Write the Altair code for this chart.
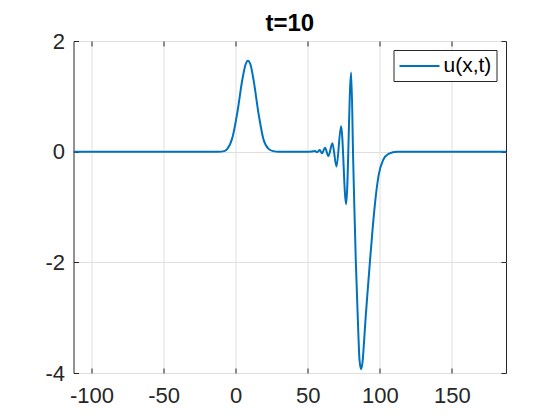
import altair as alt
import pandas as pd

# values
x_vals = [-112.5, -12, -8, -5.8, -2.3, 1.1, 4.6, 6.9, 8.5, 10.3, 12.5, 15.9, 19.3, 22.8, 26, 30,
          48, 53, 55, 56.5, 58.3, 59.8, 62.0, 64.3, 67.1, 69.9, 73.1, 76.6, 80.1, 81.5, 82.3,
          83.3, 84.9, 85.9, 87.0, 88.0, 89.0, 90.0, 91.4, 93.2, 95.1, 97.2, 99.2, 102.3, 106, 112, 187.5]
u_vals = [0, 0, 0.01, 0.05, 0.25, 0.70, 1.30, 1.58, 1.645, 1.57, 1.28, 0.68, 0.22, 0.05, 0.01, 0,
          0, 0.005, 0.01, -0.01, 0.03, -0.03, 0.07, -0.08, 0.15, -0.27, 0.46, -0.95, 1.43, -0.15, -1.0,
          -1.96, -3.16, -3.77, -3.93, -3.80, -3.45, -3.05, -2.56, -1.96, -1.36, -0.80, -0.42, -0.15, -0.04, 0, 0]
series = ["u(x,t)"] * len(x_vals)
x_ticks = [-100, -50, 0, 50, 100, 150]
y_ticks = [-4, -2, 0, 2]
x_domain = [-112.5, 187.5]
y_domain = [-4, 2]

df = pd.DataFrame({"x": x_vals, "u": u_vals, "s": series})

FONT = "Liberation Sans"
TXT = "#262626"

base = alt.Chart(df)

main = base.mark_line(color="#0072BD", strokeWidth=2, interpolate="monotone").encode(
    x=alt.X("x:Q", scale=alt.Scale(domain=x_domain, nice=False, zero=False),
            axis=alt.Axis(orient="bottom", values=x_ticks, grid=True, ticks=False, domain=False,
                          labelPadding=12, labelExpr="'' + datum.value", title=None,
                          labelFont=FONT, labelFontSize=22, labelColor=TXT)),
    y=alt.Y("u:Q", scale=alt.Scale(domain=y_domain, nice=False),
            axis=alt.Axis(orient="left", values=y_ticks, grid=True, ticks=False, domain=False,
                          labelPadding=9, labelExpr="'' + datum.value", title=None,
                          labelFont=FONT, labelFontSize=22, labelColor=TXT)),
    color=alt.Color("s:N", scale=alt.Scale(range=["#0072BD"]),
                    legend=alt.Legend(title=None, orient="none", legendX=320, legendY=9,
                                      strokeColor=TXT, fillColor="white", padding=5,
                                      symbolType="M-2,0H2", symbolSize=400, symbolStrokeWidth=2,
                                      symbolOffset=10, labelFontSize=21, labelFont=FONT,
                                      labelColor="black", labelOffset=13, cornerRadius=0)),
)


def tick_axis(orient):
    return alt.Axis(orient=orient, grid=False, ticks=True, tickSize=5, offset=-5,
                    labels=False, domain=False, title=None, minExtent=0, maxExtent=0,
                    values=x_ticks if orient in ("top", "bottom") else y_ticks)


ticks_tr = base.mark_line(strokeOpacity=0).encode(
    x=alt.X("x:Q", scale=alt.Scale(domain=x_domain, nice=False, zero=False), axis=tick_axis("top")),
    y=alt.Y("u:Q", scale=alt.Scale(domain=y_domain, nice=False), axis=tick_axis("right")),
)

ticks_bl = base.mark_line(strokeOpacity=0).encode(
    x=alt.X("x:Q", scale=alt.Scale(domain=x_domain, nice=False, zero=False), axis=tick_axis("bottom")),
    y=alt.Y("u:Q", scale=alt.Scale(domain=y_domain, nice=False), axis=tick_axis("left")),
)

chart = alt.layer(main, ticks_tr, ticks_bl).resolve_scale(
    x="independent", y="independent"
).properties(
    width=432.5, height=332,
    title=alt.TitleParams("t=10", fontSize=24, font=FONT, fontWeight="bold", color="black",
                          anchor="middle", offset=6, dy=12),
    autosize=alt.AutoSizeParams(type="none"),
    padding={"left": 65.5, "top": 33, "right": 40, "bottom": 35},
    background="white",
).configure_view(
    stroke=TXT, strokeWidth=1
).configure_axis(
    labelFont=FONT, labelFontSize=22, labelColor=TXT, gridColor="#dfdfdf", gridWidth=1,
    tickColor=TXT, tickWidth=1
)

chart.save("out.html", embed_options={"renderer": "svg", "actions": False})
